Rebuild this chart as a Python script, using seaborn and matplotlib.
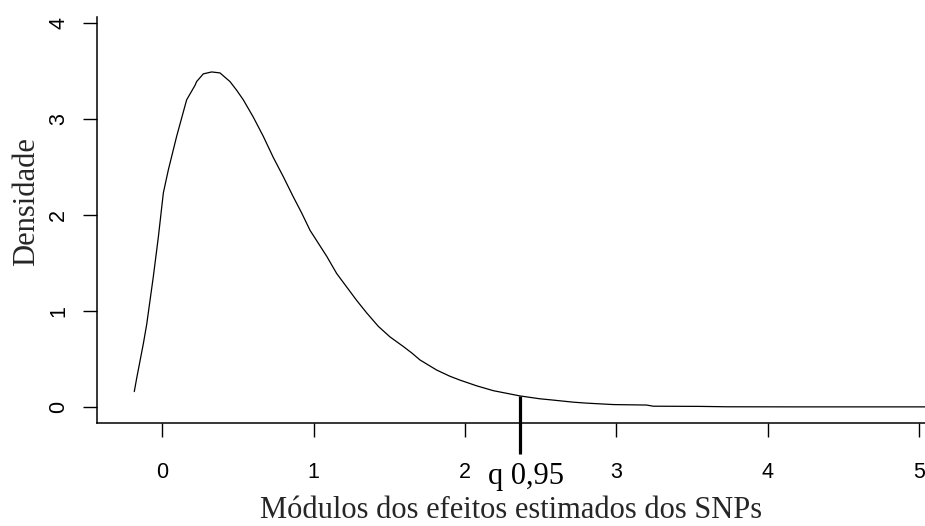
import numpy as np
import pandas as pd
import matplotlib
matplotlib.use("Agg")
import matplotlib.pyplot as plt
import matplotlib.transforms as mtransforms
import seaborn as sns

# ---- data ----
effect_x = [-0.185, -0.169, -0.125, -0.103, -0.059, -0.026, 0.007, 0.040, 0.062, 0.095,
            0.161, 0.216, 0.227, 0.271, 0.326, 0.381, 0.447, 0.491, 0.535, 0.601,
            0.667, 0.733, 0.799, 0.865, 0.921, 0.976, 1.086, 1.152, 1.218, 1.284,
            1.350, 1.427, 1.504, 1.592, 1.650, 1.702, 1.812, 1.900, 1.966, 2.077,
            2.186, 2.363, 2.495, 2.561, 2.715, 2.803, 2.979, 3.199, 3.243, 3.551,
            3.73, 4.2, 5.04]
density_y = [0.16, 0.30, 0.66, 0.86, 1.36, 1.77, 2.23, 2.47, 2.61, 2.82,
             3.20, 3.35, 3.39, 3.47, 3.49, 3.48, 3.39, 3.30, 3.20, 3.02,
             2.82, 2.60, 2.40, 2.19, 2.02, 1.84, 1.57, 1.39, 1.25, 1.11,
             0.98, 0.84, 0.73, 0.63, 0.56, 0.49, 0.385, 0.32, 0.28, 0.22,
             0.17, 0.115, 0.085, 0.075, 0.05, 0.04, 0.025, 0.02, 0.008, 0.006,
             0.002, 0.001, 0.001]
q95 = 2.363
q_label = "q 0,95"
x_ticks = [0, 1, 2, 3, 4, 5]
y_ticks = [0, 1, 2, 3, 4]
x_title = "Módulos dos efeitos estimados dos SNPs"
y_title = "Densidade"

df = pd.DataFrame({"x": effect_x, "y": density_y})

sns.set_style("ticks")
plt.rcParams["font.family"] = ["Liberation Sans", "DejaVu Sans"]

fig = plt.figure(figsize=(9.25, 5.26), dpi=100)
ax = fig.add_axes([0.1049, 0.1949, 0.8951, 0.7728])

sns.lineplot(data=df, x="x", y="y", color="black", linewidth=0.9, ax=ax,
             estimator=None, sort=False)

# quantile line
q_top = float(np.interp(q95, effect_x, density_y))
ax.plot([q95, q95], [-0.49, q_top], color="black", linewidth=2.3,
        clip_on=False, solid_capstyle="butt")

ax.set_xlim(-0.431, 5.038)
ax.set_ylim(-0.172, 4.0625)

ax.set_xticks(x_ticks)
ax.set_yticks(y_ticks)
ax.set_xticklabels([str(t) for t in x_ticks])
ax.set_yticklabels([str(t) for t in y_ticks], rotation=90, va="center")
ax.tick_params(axis="both", length=10, width=1.0, color="black",
               labelsize=15.5, labelcolor="black")
ax.tick_params(axis="x", pad=18)
ax.tick_params(axis="y", pad=10)

for s in ["top", "right"]:
    ax.spines[s].set_visible(False)
for s in ["left", "bottom"]:
    ax.spines[s].set_linewidth(1.1)
    ax.spines[s].set_color("black")

serif = ["Liberation Serif", "DejaVu Serif"]
ax.set_xlabel(x_title, fontsize=22, family=serif)
ax.set_ylabel(y_title, fontsize=22, family=serif)
ax.yaxis.set_label_coords(-0.068, 0.545)
ax.xaxis.set_label_coords(0.5, -0.178)

trans = mtransforms.blended_transform_factory(ax.transData, ax.transAxes)
trans = trans + mtransforms.ScaledTranslation(6 / 100, 0, fig.dpi_scale_trans)
ax.text(q95, -0.148, q_label, transform=trans, ha="center", va="baseline",
        fontsize=22, family=serif, color="black")

ax.grid(False)
fig.savefig("out.png", dpi=100, facecolor="white")
